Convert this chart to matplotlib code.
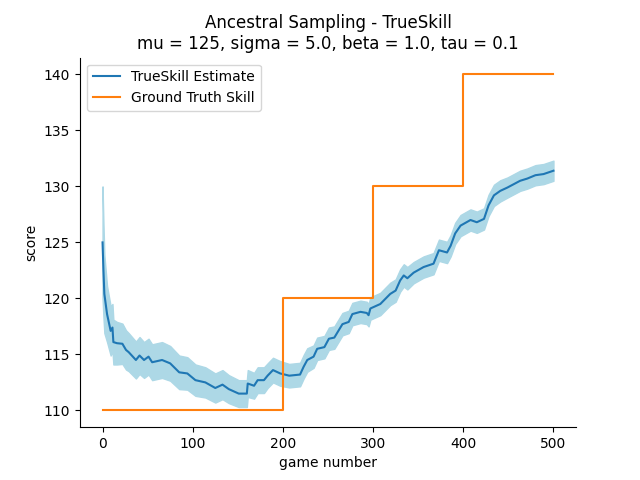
import numpy as np
import matplotlib.pyplot as plt

# game number at which each estimate was read
games = [0, 1, 2, 5, 9, 11, 12, 16, 22, 26, 29, 37, 41, 46, 51, 55, 66, 75, 85,
         94, 103, 114, 125, 133, 140, 151, 160, 161, 168, 172, 179, 183, 189, 197,
         207, 219, 223, 227, 234, 238, 246, 251, 257, 266, 273, 277, 286, 293, 295,
         297, 308, 319, 325, 330, 334, 338, 345, 356, 367, 373, 382, 386, 391, 397,
         408, 415, 423, 428, 434, 441, 449, 456, 463, 471, 480, 489, 500]
mu_est = [125.0, 122.5, 120.4, 118.6, 117.1, 117.4, 116.1, 116.0, 115.95, 115.4,
          115.2, 114.5, 114.9, 114.5, 114.8, 114.3, 114.5, 114.2, 113.4,
          113.3, 112.7, 112.5, 112.0, 112.3, 111.9, 111.5, 111.5, 112.4, 112.2,
          112.7, 112.7, 113.1, 113.6, 113.3,
          113.1, 113.2, 113.9, 114.5, 114.8, 115.5, 115.65, 116.4, 116.5, 117.7,
          117.9, 118.6, 118.8, 118.7, 118.5, 119.1, 119.5, 120.4, 120.7, 121.6,
          122.05, 121.8, 122.3, 122.8, 123.1, 124.3, 124.1, 124.7, 125.8, 126.5,
          127.0, 126.8, 127.1, 128.3, 129.2, 129.6, 129.9, 130.2, 130.5, 130.7,
          131.0, 131.1, 131.4]
sigma_est = [5.0, 4.2, 3.5, 2.5, 2.2, 2.1, 2.0, 1.9, 1.8, 1.75, 1.7, 1.65, 1.65,
             1.6, 1.6, 1.6, 1.6, 1.55, 1.5, 1.45, 1.4, 1.35, 1.3, 1.3, 1.25,
             1.2, 1.2, 1.2, 1.15, 1.15, 1.15, 1.1, 1.1, 1.1,
             1.05, 1.05, 1.05, 1.05, 1.0, 1.0, 1.0, 1.0, 1.0, 1.0, 1.0, 1.0, 1.0,
             1.0, 1.0, 1.0, 1.0, 1.0, 1.0, 1.0, 1.0, 1.0, 0.95, 0.95, 0.95, 0.95,
             0.95, 0.95, 0.95, 0.95, 0.95, 0.95, 0.95, 0.95, 0.95, 0.95, 0.9, 0.9,
             0.9, 0.9, 0.9, 0.9, 0.9]

# ground truth skill (step changes every 100 games after 200)
truth_games = [0, 200, 200, 300, 300, 400, 400, 500]
truth_skill = [110, 110, 120, 120, 130, 130, 140, 140]

games = np.array(games)
mu_est = np.array(mu_est)
sigma_est = np.array(sigma_est)

fig, ax = plt.subplots(figsize=(6.4, 4.8))
ax.fill_between(games, mu_est - sigma_est, mu_est + sigma_est, color='lightblue')
ax.plot(games, mu_est, label='TrueSkill Estimate')
ax.plot(truth_games, truth_skill, label='Ground Truth Skill')
ax.set_xlabel('game number')
ax.set_ylabel('score')
ax.set_title('Ancestral Sampling - TrueSkill\nmu = 125, sigma = 5.0, beta = 1.0, tau = 0.1')
ax.spines['top'].set_visible(False)
ax.spines['right'].set_visible(False)
ax.legend(loc='upper left')
plt.savefig('out.png', dpi=100)
